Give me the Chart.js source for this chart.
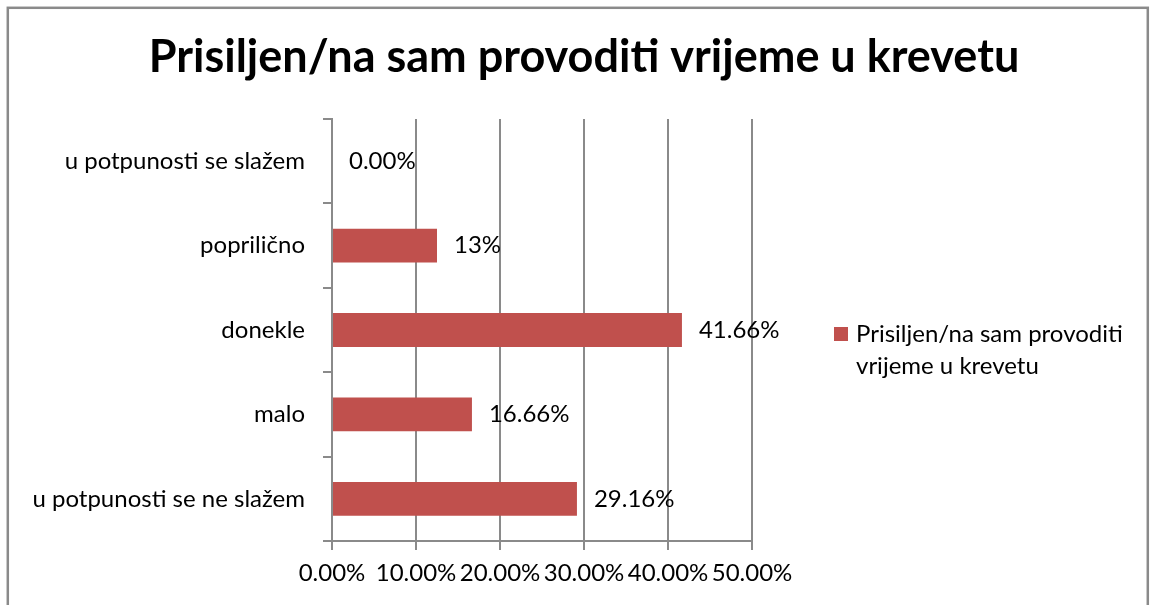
<!DOCTYPE html>
<html>
<head>
<meta charset="utf-8">
<script src="https://cdn.jsdelivr.net/npm/chart.js@4.4.0/dist/chart.umd.min.js"></script>
<style>
html,body{margin:0;padding:0;background:#fff;}
#wrap{width:1155px;height:605px;position:relative;}
</style>
</head>
<body>
<div id="wrap"><canvas id="c" width="1155" height="605"></canvas></div>
<script>
const titleText = "Prisiljen/na sam provoditi vrijeme u krevetu";
const categories = ["u potpunosti se slažem", "poprilično", "donekle", "malo", "u potpunosti se ne slažem"];
const values = [0, 12.5, 41.66, 16.66, 29.16];
const valueLabels = ["0.00%", "13%", "41.66%", "16.66%", "29.16%"];
const seriesName = "Prisiljen/na sam provoditi vrijeme u krevetu";
const legendLines = ["Prisiljen/na sam provoditi", "vrijeme u krevetu"];
const xTicks = [0, 10, 20, 30, 40, 50];

const FONT = "Lato, 'Open Sans', sans-serif";
const BAR = "#C0504D";
const GRID = "#8a8a8a";

const frame = {
  id: 'frame',
  beforeDraw(chart) {
    const ctx = chart.ctx;
    ctx.save();
    ctx.fillStyle = '#fff';
    ctx.fillRect(0, 0, chart.width, chart.height);
    ctx.strokeStyle = GRID;
    ctx.lineWidth = 2.5;
    ctx.strokeRect(7.8, 7.8, 1140, 700);
    ctx.restore();
  }
};

const barLabels = {
  id: 'barLabels',
  afterDatasetsDraw(chart) {
    const ctx = chart.ctx;
    const meta = chart.getDatasetMeta(0);
    ctx.save();
    ctx.font = "24px " + FONT;
    ctx.fillStyle = '#000';
    ctx.textAlign = 'left';
    ctx.textBaseline = 'middle';
    meta.data.forEach((bar, i) => {
      ctx.fillText(valueLabels[i], bar.x + 17, bar.y);
    });
    ctx.restore();
  }
};

const sideLegend = {
  id: 'sideLegend',
  afterDraw(chart) {
    const ctx = chart.ctx;
    ctx.save();
    ctx.fillStyle = chart.data.datasets[0].backgroundColor;
    ctx.fillRect(834, 327, 14, 14);
    ctx.font = "24px " + FONT;
    ctx.fillStyle = '#000';
    ctx.textAlign = 'left';
    ctx.textBaseline = 'middle';
    legendLines.forEach((t, i) => ctx.fillText(t, 856, 334 + i * 32));
    ctx.restore();
  }
};

new Chart(document.getElementById('c'), {
  type: 'bar',
  data: {
    labels: categories,
    datasets: [{
      label: seriesName,
      data: values,
      backgroundColor: BAR,
      borderWidth: 0,
      barPercentage: 0.4,
      categoryPercentage: 1.0
    }]
  },
  options: {
    indexAxis: 'y',
    responsive: false,
    animation: false,
    devicePixelRatio: 1,
    layout: { padding: { top: 0, left: 13, right: 0, bottom: 0 } },
    plugins: {
      legend: { display: false },
      tooltip: { enabled: false },
      title: {
        display: true,
        text: titleText,
        color: '#000',
        font: { family: FONT, size: 45, weight: 'bold', lineHeight: 1.2 },
        padding: { top: 30, bottom: 35 }
      }
    },
    scales: {
      x: {
        min: 0, max: 50,
        afterBuildTicks(scale) { scale.ticks = xTicks.map(v => ({ value: v })); },
        afterFit(scale) { scale.height = 64; },
        ticks: {
          color: '#000',
          font: { family: FONT, size: 24 },
          padding: 9,
          maxRotation: 0,
          autoSkip: false,
          callback: (v) => v.toFixed(2) + '%'
        },
        grid: { color: GRID, lineWidth: 2, tickLength: 9, drawOnChartArea: true },
        border: { color: GRID, width: 2 }
      },
      y: {
        afterFit(scale) { scale.width = 319; },
        ticks: {
          color: '#000',
          font: { family: FONT, size: 24 },
          padding: 18
        },
        grid: { color: GRID, lineWidth: 2, tickLength: 9, drawOnChartArea: false, offset: true },
        border: { color: GRID, width: 2 }
      },
      legendSpace: {
        type: 'linear',
        position: 'right',
        display: true,
        afterFit(scale) { scale.width = 403; },
        ticks: { display: false },
        grid: { display: false, drawTicks: false },
        border: { display: false }
      }
    }
  },
  plugins: [frame, barLabels, sideLegend]
});
</script>
</body>
</html>
